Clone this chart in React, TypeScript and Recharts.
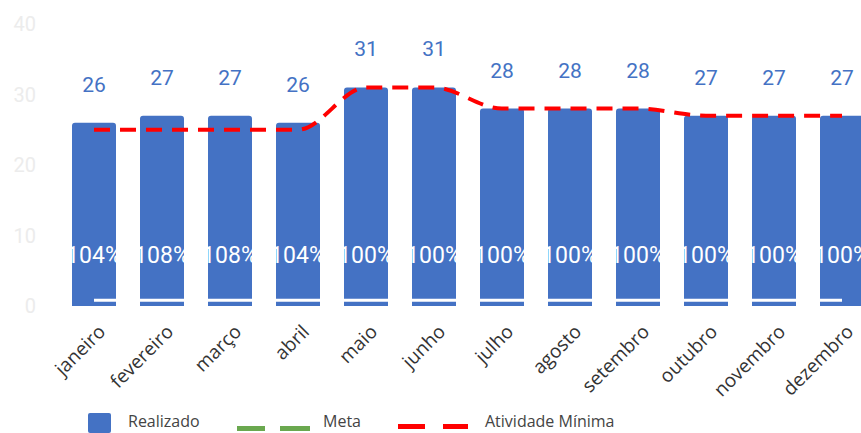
import React from "react";
import {
  ComposedChart,
  Bar,
  Line,
  XAxis,
  YAxis,
  LabelList,
  Legend,
} from "recharts";

const months = [
  "janeiro",
  "fevereiro",
  "março",
  "abril",
  "maio",
  "junho",
  "julho",
  "agosto",
  "setembro",
  "outubro",
  "novembro",
  "dezembro",
];
const realizado = [26, 27, 27, 26, 31, 31, 28, 28, 28, 27, 27, 27];
const atividadeMinima = [25, 25, 25, 25, 31, 31, 28, 28, 28, 27, 27, 27];
const meta = [0.8, 0.8, 0.8, 0.8, 0.8, 0.8, 0.8, 0.8, 0.8, 0.8, 0.8, 0.8];
const percentual = [104, 108, 108, 104, 100, 100, 100, 100, 100, 100, 100, 100];
const yTicks = [0, 10, 20, 30, 40];

const data = months.map((m, i) => ({
  mes: m,
  realizado: realizado[i],
  atividade: atividadeMinima[i],
  meta: meta[i],
  pct: percentual[i],
}));

const BLUE = "#4472C4";
const GREEN = "#6AA84F";
const RED = "#FF0000";
const FONT = "'Open Sans', sans-serif";

const PctLabel = (props: any) => {
  const { x, y, width, height, value } = props;
  return (
    <text
      x={x + width / 2}
      y={y + height - 43}
      textAnchor="middle"
      fill="#ffffff"
      fontSize={23}
      fontFamily="Roboto, sans-serif"
    >
      {value}%
    </text>
  );
};

const MonthTick = (props: any) => {
  const { x, y, payload } = props;
  return (
    <g transform={`translate(${x + 12.5},${y + 19}) rotate(-45)`}>
      <text
        x={0}
        y={0}
        textAnchor="end"
        fill="#333333"
        fontSize={19}
        fontFamily={FONT}
      >
        {payload.value}
      </text>
    </g>
  );
};

const textStyle: React.CSSProperties = {
  position: "absolute",
  top: 10,
  height: 22,
  lineHeight: "22px",
  whiteSpace: "nowrap",
};

const LegendContent = () => (
  <div
    style={{
      position: "relative",
      width: 861,
      height: 33,
      fontFamily: FONT,
      fontSize: 16,
      color: "#444",
    }}
  >
    <div style={{ position: "absolute", left: 88, top: 13, width: 23, height: 20, background: BLUE, borderRadius: 2 }} />
    <div style={{ ...textStyle, left: 128 }}>Realizado</div>
    <div style={{ position: "absolute", left: 237, top: 26, width: 28, height: 5, background: GREEN }} />
    <div style={{ position: "absolute", left: 280, top: 26, width: 30, height: 5, background: GREEN }} />
    <div style={{ ...textStyle, left: 323 }}>Meta</div>
    <div style={{ position: "absolute", left: 398, top: 24, width: 27, height: 5, background: RED }} />
    <div style={{ position: "absolute", left: 443, top: 24, width: 25, height: 5, background: RED }} />
    <div style={{ ...textStyle, left: 485 }}>Atividade Mínima</div>
  </div>
);

export default function App() {
  return (
    <div
      style={{
        position: "fixed",
        left: 0,
        top: 0,
        width: 861,
        height: 433,
        overflow: "hidden",
        background: "#ffffff",
      }}
    >
      <ComposedChart
        width={880}
        height={433}
        data={data}
        margin={{ top: 24, right: 4, left: 0, bottom: 0 }}
      >
        <XAxis
          dataKey="mes"
          interval={0}
          axisLine={false}
          tickLine={false}
          height={94}
          tick={<MonthTick />}
        />
        <YAxis
          domain={[0, 40]}
          ticks={yTicks}
          width={60}
          axisLine={false}
          tickLine={false}
          tickMargin={18}
          tick={{ fill: "#ececec", fontSize: 20, fontFamily: "Roboto, sans-serif" }}
        />
        <Legend
          verticalAlign="bottom"
          height={33}
          wrapperStyle={{ left: 0, bottom: 0, width: 861, height: 33 }}
          content={<LegendContent />}
        />
        <Bar
          dataKey="realizado"
          name="Realizado"
          fill={BLUE}
          barSize={44}
          radius={[3, 3, 0, 0]}
          isAnimationActive={false}
        >
          <LabelList
            dataKey="realizado"
            position="top"
            offset={31}
            fill={BLUE}
            fontSize={21}
            fontFamily="Roboto, sans-serif"
          />
          <LabelList dataKey="pct" content={<PctLabel />} />
        </Bar>
        <Line
          dataKey="meta"
          name="Meta"
          type="linear"
          stroke="#ffffff"
          strokeWidth={3}
          dot={false}
          activeDot={false}
          isAnimationActive={false}
        />
        <Line
          dataKey="atividade"
          name="Atividade Mínima"
          type="monotone"
          stroke={RED}
          strokeWidth={4}
          strokeDasharray="16 10"
          dot={false}
          activeDot={false}
          isAnimationActive={false}
        />
      </ComposedChart>
    </div>
  );
}
